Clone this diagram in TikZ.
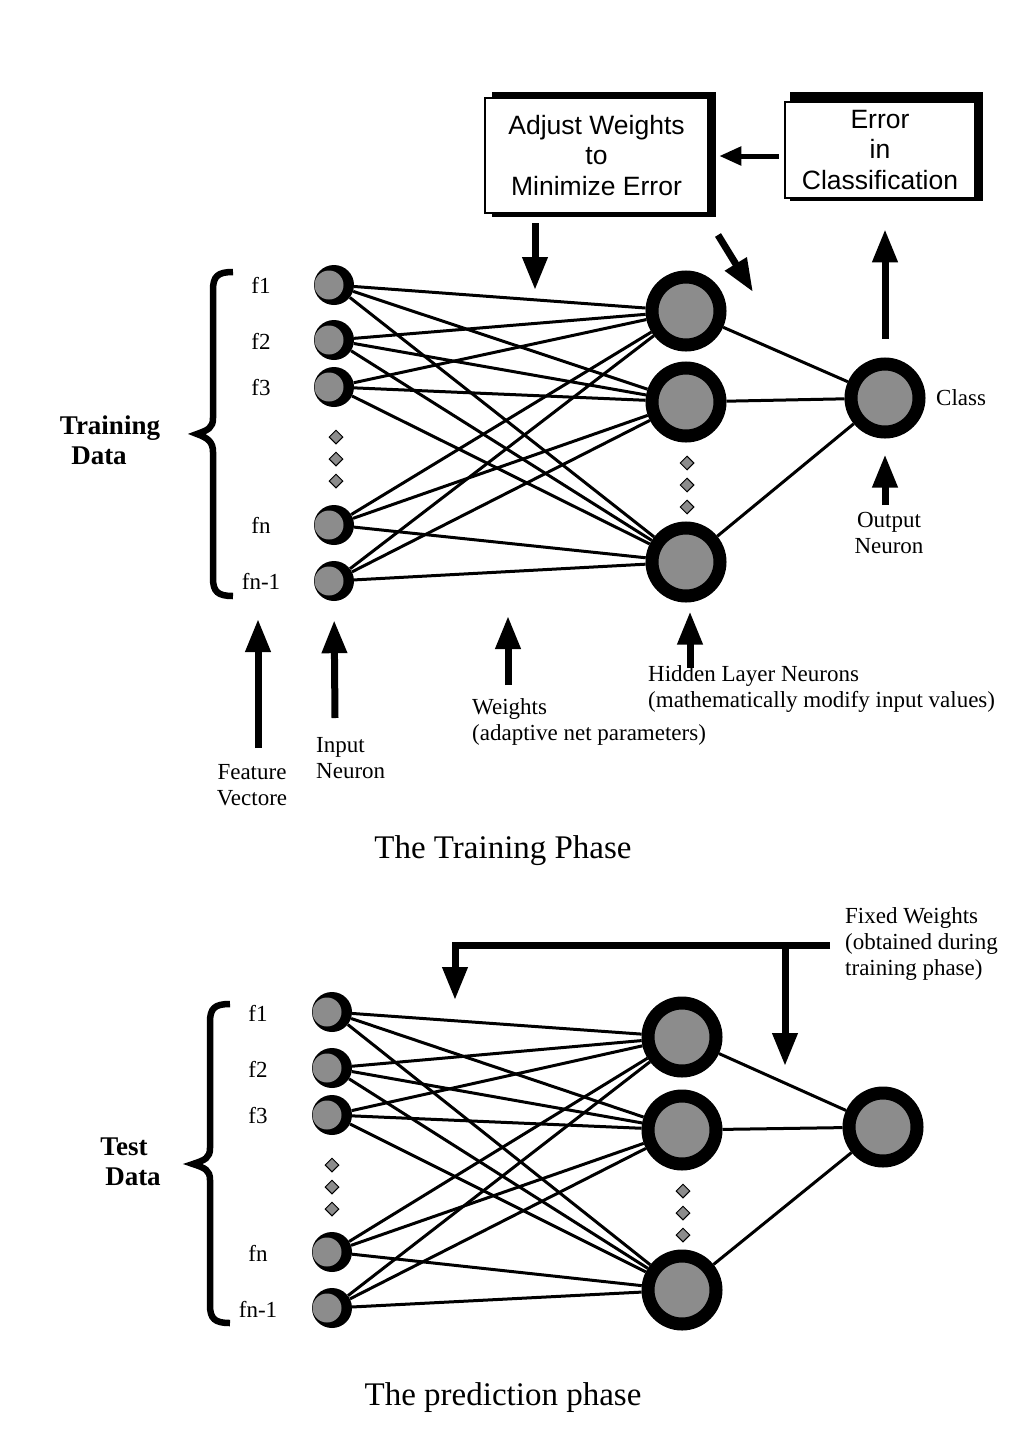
\documentclass[tikz,border=0pt]{standalone}
\usepackage{fontspec}
\setmainfont{Liberation Serif}
\newfontfamily\boxfont{Liberation Sans}
\usetikzlibrary{shapes.geometric,arrows.meta}
\begin{document}
\begin{tikzpicture}[x=1pt,y=-1pt,
  inp/.style={circle,fill=black,minimum size=40pt,inner sep=0pt,
    path picture={\fill[black!45] ([xshift=-5pt]path picture bounding box.center) circle (14.5pt);}},
  hid/.style={circle,draw=black,line width=13pt,fill=black!45,minimum size=68pt,inner sep=0pt},
  dia/.style={diamond,draw=black,line width=1pt,fill=black!45,minimum size=14pt,inner sep=0pt},
  conn/.style={line width=3pt},
  big/.style={line width=7pt,-{Triangle[length=33pt,width=24pt]}},
  small/.style={line width=5pt,-{Triangle[length=22pt,width=18pt]}},
  lbl/.style={inner sep=0pt,font=\fontsize{23}{26}\selectfont},
  ttl/.style={inner sep=0pt,font=\fontsize{33}{38}\selectfont},
  grp/.style={inner sep=0pt,font=\bfseries\fontsize{27}{30}\selectfont},
  boxtxt/.style={draw=black,line width=2.5pt,fill=white,align=center,inner sep=0pt,font=\boxfont\fontsize{26.5}{30.5}\selectfont},
  brace/.style={line width=6.5pt}]
\path[use as bounding box] (0,0) rectangle (1032,1443);

% ---------------- Training phase ----------------
\fill[black] (492,92) rectangle (716,217);
\node[boxtxt,minimum width=223pt,minimum height=115pt] (adj) at (596.5,155.5) {Adjust Weights\\to\\Minimize Error};
\fill[black] (790,92) rectangle (983,201);
\node[boxtxt,minimum width=190pt,minimum height=96pt] (err) at (880,150) {Error\\in\\Classification};
\draw[small,shorten <=5pt,shorten >=10pt] ([yshift=-6pt]err.west) -- ([yshift=-6pt]err.west -| adj.east);

% brace
\draw[brace] (233,272) .. controls (218,272) and (213,276) .. (213,290) -- (213,418) .. controls (213,428) and (208,430) .. (197,434) .. controls (208,438) and (213,442) .. (213,452) -- (213,578) .. controls (213,592) and (218,596) .. (233,596);
\node[grp] (trn) at (110,428) {Training};
\node[grp] (trd) at (99,456) {Data};

% feature labels
\node[lbl] (tf1) at (261,285) {f1};
\node[lbl] (tf2) at (261,341) {f2};
\node[lbl] (tf3) at (261,388) {f3};
\node[lbl] (tf4) at (261,525) {fn};
\node[lbl] (tf5) at (261,581) {fn-1};

% neurons
\node[inp] (ti1) at (334,285) {};
\node[inp] (ti2) at (334,340) {};
\node[inp] (ti3) at (334,387) {};
\node[inp] (ti4) at (334,525) {};
\node[inp] (ti5) at (334,581) {};
\node[dia] (td1) at (336,437) {};
\node[dia] (td2) at (336,459) {};
\node[dia] (td3) at (336,481) {};
\node[hid] (th1) at (686,311) {};
\node[hid] (th2) at (686,402) {};
\node[hid] (th3) at (686,562) {};
\node[dia] (thd1) at (687,463) {};
\node[dia] (thd2) at (687,485) {};
\node[dia] (thd3) at (687,507) {};
\node[hid] (to) at (885,398) {};

\foreach \i in {1,...,5}{\foreach \h in {1,2,3}{\draw[conn] (ti\i) -- (th\h);}}
\foreach \h in {1,2,3}{\draw[conn] (th\h) -- (to);}

\node[lbl,anchor=west] (cls) at (936,398) {Class};

% feedback arrows
\coordinate (wtip) at (535,290);
\draw[big,shorten <=9pt] (adj.south -| wtip) -- (wtip);
\coordinate (dgs) at (718,235);
\coordinate (dgt) at (753,292);
\draw[big] (dgs) -- (dgt);
\draw[big,shorten <=19pt,shorten >=30pt] (to.north) -- (to.north |- err.south);

% output neuron label
\node[lbl,align=center] (onl) at (889,533) {Output\\Neuron};
\coordinate (onb) at (885,505);
\draw[big,shorten >=16pt] (onb) -- (to.south);

% bottom labels
\node[lbl,align=center] (fvl) at (252,785) {Feature\\Vectore};
\coordinate (fvb) at (258,748);
\coordinate (fvt) at (258,619);
\draw[big] (fvb) -- (fvt);

\node[lbl,align=left,anchor=west] (inl) at (316,758) {Input\\Neuron};
\coordinate (inb) at (335,718);
\draw[big,shorten >=19pt] (inb) -- (ti5.south);

\node[lbl,align=left,anchor=west] (wgl) at (472,722) {Weights\\(adaptive net parameters)};
\coordinate (wgb) at (508,685);
\coordinate (wgt) at (508,616);
\draw[big] (wgb) -- (wgt);

\node[lbl,align=left,anchor=west] (hdl) at (648,689) {Hidden Layer Neurons\\(mathematically modify input values)};
\coordinate (hdb) at (690,668);
\draw[big,shorten >=9pt] (hdb) -- (th3.south -| hdb);

\node[ttl] (t1) at (503,851) {The Training Phase};

% ---------------- Prediction phase ----------------
\draw[brace] (230,1004) .. controls (215,1004) and (210,1008) .. (210,1022) -- (210,1148) .. controls (210,1158) and (205,1160) .. (193,1164) .. controls (205,1168) and (210,1170) .. (210,1180) -- (210,1305) .. controls (210,1319) and (215,1323) .. (230,1323);
\node[grp] (tsn) at (124,1147) {Test};
\node[grp] (tsd) at (133,1177) {Data};

\node[lbl] (pf1) at (258,1013) {f1};
\node[lbl] (pf2) at (258,1069) {f2};
\node[lbl] (pf3) at (258,1116) {f3};
\node[lbl] (pf4) at (258,1253) {fn};
\node[lbl] (pf5) at (258,1309) {fn-1};

\node[inp] (pi1) at (332,1012) {};
\node[inp] (pi2) at (332,1068) {};
\node[inp] (pi3) at (332,1115) {};
\node[inp] (pi4) at (332,1252) {};
\node[inp] (pi5) at (332,1308) {};
\node[dia] (pd1) at (332,1165) {};
\node[dia] (pd2) at (332,1187) {};
\node[dia] (pd3) at (332,1209) {};
\node[hid] (ph1) at (682,1037) {};
\node[hid] (ph2) at (682,1130) {};
\node[hid] (ph3) at (682,1290) {};
\node[dia] (phd1) at (683,1191) {};
\node[dia] (phd2) at (683,1213) {};
\node[dia] (phd3) at (683,1235) {};
\node[hid] (po) at (883,1127) {};

\foreach \i in {1,...,5}{\foreach \h in {1,2,3}{\draw[conn] (pi\i) -- (ph\h);}}
\foreach \h in {1,2,3}{\draw[conn] (ph\h) -- (po);}

% fixed weights
\node[lbl,align=left,anchor=west] (fwl) at (845,944) {Fixed Weights\\(obtained during\\training phase)};
\coordinate (fwr) at (830,945);
\coordinate (fwc) at (455,945);
\coordinate (fwt) at (455,1000);
\coordinate (fwm) at (785,945);
\coordinate (fwt2) at (785,1066);
\draw[big,line join=miter] (fwr) -- (fwc) -- (fwt);
\draw[big] (fwm) -- (fwt2);

\node[ttl] (t2) at (503,1398) {The prediction phase};
\end{tikzpicture}
\end{document}
